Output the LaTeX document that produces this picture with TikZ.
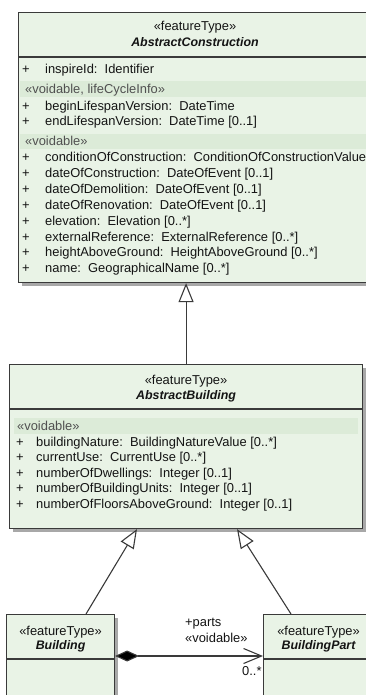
\documentclass[tikz,border=0pt]{standalone}
\usepackage{fontspec}
\setmainfont{Liberation Sans}
\usetikzlibrary{calc,arrows.meta,shadows}

\definecolor{boxfill}{HTML}{E9F3E6}
\definecolor{bandfill}{HTML}{DCEBD8}
\definecolor{edge}{HTML}{3A3A3A}
\definecolor{shade}{HTML}{A8A8A8}
\definecolor{ink}{HTML}{141414}
\definecolor{stereo}{HTML}{505050}

\begin{document}
\begin{tikzpicture}[x=1pt,y=-1pt,
  font=\fontsize{12.9}{14}\selectfont,
  classbox/.style={draw=edge, line width=1.1pt, fill=boxfill, inner sep=0pt,
    anchor=north west,
    drop shadow={shadow xshift=3pt, shadow yshift=-3pt, fill=shade, opacity=1}},
  divider/.style={draw=edge, line width=1.1pt},
  band/.style={fill=bandfill, draw=none},
  txt/.style={inner sep=0pt, text height=9.2pt, text depth=2.8pt, text=ink},
  attr/.style={txt, anchor=west},
  plus/.style={txt, anchor=center},
  stereolbl/.style={txt, anchor=west, text=stereo},
  head/.style={txt, anchor=center},
  headname/.style={txt, anchor=center, font=\fontsize{12.4}{14}\selectfont\bfseries\itshape},
  conn/.style={draw=edge, line width=1.1pt},
  gen/.style={conn, -{Triangle[length=19pt, width=15pt, fill=white]}},
  comp/.style={conn, {Diamond[length=24pt, width=11pt, fill=black]}-{Straight Barb[length=18pt, width=15pt]}}
]
\useasboundingbox (0,0) rectangle (366,695);

% ---------------- AbstractConstruction ----------------
\node[classbox, minimum width=354pt, minimum height=270pt] (ac) at (18,12) {};
\draw[divider] (ac.north west |- 0,57) -- (ac.north east |- 0,57);
\fill[band] (20,81) rectangle (371,97);
\fill[band] (20,134) rectangle (371,149);
\node[head]     (acst) at (195,27) {«featureType»};
\node[headname] (acnm) at (195,43) {AbstractConstruction};

\node[plus] (acp1) at (26,70) {+};
\node[attr] (aca1) at (45,70) {inspireId:\ \ Identifier};
\node[stereolbl] (acs1) at (25,90) {«voidable, lifeCycleInfo»};
\node[plus] (acp2) at (26,107) {+};
\node[attr] (aca2) at (45,107) {beginLifespanVersion:\ \ DateTime};
\node[plus] (acp3) at (26,122) {+};
\node[attr] (aca3) at (45,122) {endLifespanVersion:\ \ DateTime [0..1]};
\node[stereolbl] (acs2) at (25,142) {«voidable»};
\node[plus] (acp4) at (26,158) {+};
\node[attr] (aca4) at (45,158) {conditionOfConstruction:\ \ ConditionOfConstructionValue};
\node[plus] (acp5) at (26,174) {+};
\node[attr] (aca5) at (45,174) {dateOfConstruction:\ \ DateOfEvent [0..1]};
\node[plus] (acp6) at (26,190) {+};
\node[attr] (aca6) at (45,190) {dateOfDemolition:\ \ DateOfEvent [0..1]};
\node[plus] (acp7) at (26,206) {+};
\node[attr] (aca7) at (45,206) {dateOfRenovation:\ \ DateOfEvent [0..1]};
\node[plus] (acp8) at (26,222) {+};
\node[attr] (aca8) at (45,222) {elevation:\ \ Elevation [0..*]};
\node[plus] (acp9) at (26,238) {+};
\node[attr] (aca9) at (45,238) {externalReference:\ \ ExternalReference [0..*]};
\node[plus] (acp10) at (26,253) {+};
\node[attr] (aca10) at (45,253) {heightAboveGround:\ \ HeightAboveGround [0..*]};
\node[plus] (acp11) at (26,269) {+};
\node[attr] (aca11) at (45,269) {name:\ \ GeographicalName [0..*]};

% ---------------- AbstractBuilding ----------------
\node[classbox, minimum width=353pt, minimum height=164pt] (ab) at (9,364) {};
\draw[divider] (ab.west |- 0,409) -- (ab.east |- 0,409);
\fill[band] (14,418) rectangle (358,434);
\node[head]     (abst) at (ab.north |- 0,381) {«featureType»};
\node[headname] (abnm) at (ab.north |- 0,396) {AbstractBuilding};

\node[stereolbl] (abs1) at (17,427) {«voidable»};
\node[plus] (abp1) at (20,443) {+};
\node[attr] (aba1) at (36,443) {buildingNature:\ \ BuildingNatureValue [0..*]};
\node[plus] (abp2) at (20,458) {+};
\node[attr] (aba2) at (36,458) {currentUse:\ \ CurrentUse [0..*]};
\node[plus] (abp3) at (20,474) {+};
\node[attr] (aba3) at (36,474) {numberOfDwellings:\ \ Integer [0..1]};
\node[plus] (abp4) at (20,489) {+};
\node[attr] (aba4) at (36,489) {numberOfBuildingUnits:\ \ Integer [0..1]};
\node[plus] (abp5) at (20,505) {+};
\node[attr] (aba5) at (36,505) {numberOfFloorsAboveGround:\ \ Integer [0..1]};

% ---------------- Building ----------------
\node[classbox, minimum width=108pt, minimum height=100pt] (b) at (6,614) {};
\draw[divider] (b.west |- 0,659) -- (b.east |- 0,659);
\node[head]     (bst) at (b.north |- 0,632) {«featureType»};
\node[headname] (bnm) at (b.north |- 0,646) {Building};

% ---------------- BuildingPart ----------------
\node[classbox, minimum width=110pt, minimum height=100pt] (bp) at (263,614) {};
\draw[divider] (bp.west |- 0,659) -- (bp.east |- 0,659);
\node[head]     (bpst) at (bp.north |- 0,632) {«featureType»};
\node[headname] (bpnm) at (bp.north |- 0,646) {BuildingPart};

% ---------------- connectors ----------------
\draw[gen] (ab.north) -- (ab.north |- ac.south);

\coordinate (bTop)  at ($(b.north west)+(80,0)$);
\coordinate (abL)   at ($(ab.south west)+(128,0)$);
\draw[gen] (bTop) -- (abL);

\coordinate (bpTop) at ($(bp.north west)+(28,0)$);
\coordinate (abR)   at ($(ab.south west)+(228,0)$);
\draw[gen] (bpTop) -- (abR);

\coordinate (compS) at ($(b.north east)+(0,42)$);
\coordinate (compE) at (bp.west |- compS);
\draw[comp] (compS) -- (compE);

\node[attr] (rolename) at (185,623) {+parts};
\node[attr] (rolestereo) at (185,639) {«voidable»};
\node[attr] (mult) at (242,672) {0..*};
\end{tikzpicture}
\end{document}
